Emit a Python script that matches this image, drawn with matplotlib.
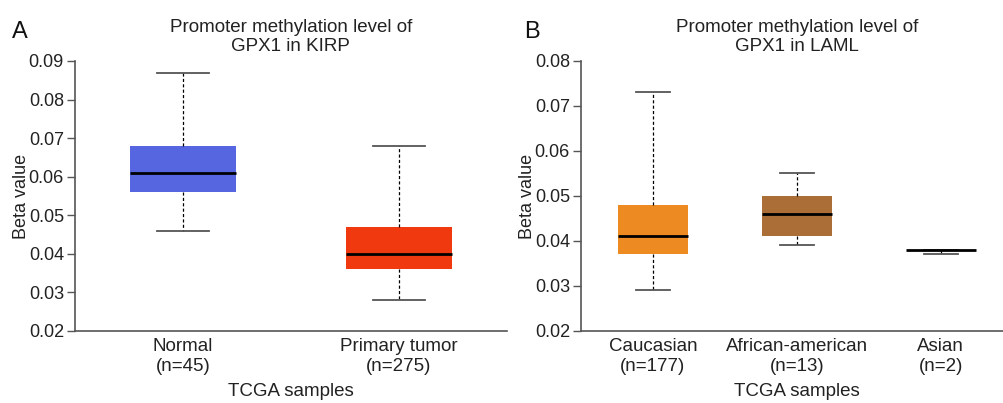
import matplotlib
matplotlib.use("Agg")
import matplotlib.pyplot as plt

plt.rcParams['font.family'] = ['Liberation Sans', 'DejaVu Sans']

# Panel A: KIRP
a_labels = ["Normal\n(n=45)", "Primary tumor\n(n=275)"]
a_whislo = [0.046, 0.028]
a_q1 = [0.056, 0.036]
a_med = [0.061, 0.040]
a_q3 = [0.068, 0.047]
a_whishi = [0.087, 0.068]
a_colors = ["#5566e0", "#f0390f"]

# Panel B: LAML
b_labels = ["Caucasian\n(n=177)", "African-american\n(n=13)", "Asian\n(n=2)"]
b_whislo = [0.029, 0.039, 0.037]
b_q1 = [0.037, 0.041, 0.038]
b_med = [0.041, 0.046, 0.038]
b_q3 = [0.048, 0.050, 0.038]
b_whishi = [0.073, 0.055, 0.038]
b_colors = ["#ee8a22", "#aa6e36", "#aa6e36"]

a_yticks = [0.02, 0.03, 0.04, 0.05, 0.06, 0.07, 0.08, 0.09]
b_yticks = [0.02, 0.03, 0.04, 0.05, 0.06, 0.07, 0.08]

fig = plt.figure(figsize=(10.04, 4.03), dpi=100)
axA = fig.add_axes([0.0747, 0.1787, 0.430, 0.670])
axB = fig.add_axes([0.5787, 0.1787, 0.430, 0.670])


def draw(ax, labels, lo, q1, med, q3, hi, colors, yticks, title):
    stats = []
    for i in range(len(labels)):
        stats.append(dict(whislo=lo[i], q1=q1[i], med=med[i], q3=q3[i],
                          whishi=hi[i], fliers=[], label=labels[i]))
    pos = list(range(len(labels)))
    bp = ax.bxp(stats, positions=pos, widths=0.49, patch_artist=True,
                showfliers=False,
                boxprops=dict(linewidth=0),
                medianprops=dict(color="black", linewidth=2),
                whiskerprops=dict(color="black", linewidth=0.9, linestyle=(0, (2.5, 1.8))),
                capprops=dict(color="#555555", linewidth=1.3),
                capwidths=0.24)
    for patch, c in zip(bp["boxes"], colors):
        patch.set_facecolor(c)
        patch.set_edgecolor(c)
    ax.set_xlim(-0.5, len(labels) - 0.5)
    ax.set_ylim(yticks[0], yticks[-1])
    ax.set_yticks(yticks)
    ax.set_yticklabels(["%.2f" % t for t in yticks])
    ax.spines["top"].set_visible(False)
    ax.spines["right"].set_visible(False)
    for s in ["left", "bottom"]:
        ax.spines[s].set_color("#555555")
        ax.spines[s].set_linewidth(1.2)
    ax.tick_params(axis="y", length=6, width=1, color="#555555",
                   labelsize=13, labelcolor="#222222", pad=2)
    ax.tick_params(axis="x", length=0, labelsize=13.5, labelcolor="#222222", pad=5)
    ax.set_ylabel("Beta value", fontsize=13, color="#222222", labelpad=-1)
    ax.set_xlabel("TCGA samples", fontsize=13.5, color="#222222", labelpad=6)
    ax.set_title(title, fontsize=13.5, color="#222222", pad=7, linespacing=1.15)


draw(axA, a_labels, a_whislo, a_q1, a_med, a_q3, a_whishi, a_colors, a_yticks,
     "Promoter methylation level of\nGPX1 in KIRP")
draw(axB, b_labels, b_whislo, b_q1, b_med, b_q3, b_whishi, b_colors, b_yticks,
     "Promoter methylation level of\nGPX1 in LAML")

fig.text(0.012, 0.905, "A", fontsize=17, color="#111111")
fig.text(0.522, 0.905, "B", fontsize=17, color="#111111")

fig.savefig("out.png", dpi=100)
